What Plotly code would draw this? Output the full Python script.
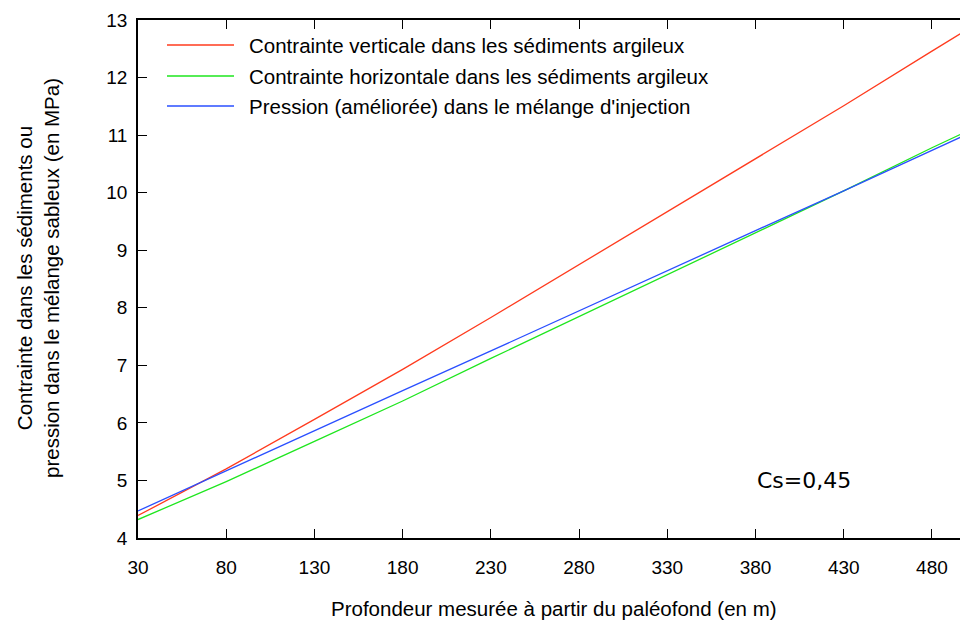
import plotly.graph_objects as go

depth = [30, 80, 130, 180, 230, 280, 330, 380, 430, 480, 496]
vertical = [4.39, 5.20, 6.06, 6.93, 7.83, 8.75, 9.67, 10.59, 11.51, 12.46, 12.76]
horizontal = [4.32, 4.98, 5.68, 6.38, 7.12, 7.85, 8.58, 9.30, 10.03, 10.78, 11.01]
pression = [4.47, 5.17, 5.86, 6.56, 7.25, 7.95, 8.64, 9.34, 10.03, 10.73, 10.96]

names = ["Contrainte verticale dans les sédiments argileux",
         "Contrainte horizontale dans les sédiments argileux",
         "Pression (améliorée) dans le mélange d'injection"]
colors = ["#ff3b1e", "#1ee61e", "#2a4fff"]
xticks = [30, 80, 130, 180, 230, 280, 330, 380, 430, 480]
yticks = [4, 5, 6, 7, 8, 9, 10, 11, 12, 13]

FONT = "Liberation Sans, Arial, Helvetica, sans-serif"

fig = go.Figure()
for ys, nm, c in zip([vertical, horizontal, pression], names, colors):
    fig.add_trace(go.Scatter(x=depth, y=ys, mode="lines", name=nm,
                             line=dict(color=c, width=1.3), showlegend=False))

W, H = 960, 623
L, R, T, B = 138, 0, 20, 85
pw, ph = W - L - R, H - T - B

def px(xp):
    return (xp - L) / pw

def py(yp):
    return (H - B - yp) / ph

# legend drawn manually
rows = [45, 76, 106]
for yp, nm, c in zip(rows, names, colors):
    fig.add_shape(type="line", xref="paper", yref="paper",
                  x0=px(167), x1=px(234), y0=py(yp), y1=py(yp),
                  line=dict(color=c, width=1.3))
    fig.add_annotation(xref="paper", yref="paper", x=px(247), y=py(yp),
                       text=nm, showarrow=False, xanchor="left", yanchor="middle",
                       font=dict(family=FONT, size=20.5, color="black"))

fig.add_annotation(xref="paper", yref="paper", x=px(755), y=py(480),
                   text="Cs=0,45", showarrow=False, xanchor="left", yanchor="middle",
                   font=dict(family="DejaVu Sans, sans-serif", size=22, color="black"))

fig.add_annotation(xref="paper", yref="paper", x=px(554), y=py(608),
                   text="Profondeur mesurée à partir du paléofond (en m)",
                   showarrow=False, xanchor="center", yanchor="middle",
                   font=dict(family=FONT, size=20.5, color="black"))

fig.add_annotation(xref="paper", yref="paper", x=px(38), y=py(278),
                   text="Contrainte dans les sédiments ou<br>pression dans le mélange sableux (en MPa)",
                   showarrow=False, xanchor="center", yanchor="middle", textangle=-90,
                   font=dict(family=FONT, size=20.5, color="black"))

fig.update_layout(
    width=W, height=H,
    margin=dict(l=L, r=R, t=T, b=B),
    paper_bgcolor="white", plot_bgcolor="white",
    font=dict(family=FONT, size=19, color="black"),
    xaxis=dict(range=[30, 495.9], tickvals=xticks, ticks="inside", ticklen=9,
               tickcolor="black", tickwidth=1.3, showline=True, linecolor="black",
               linewidth=1.6, mirror="ticks", showgrid=False, zeroline=False,
               ticklabelstandoff=11, tickfont=dict(size=19)),
    yaxis=dict(range=[4, 13], tickvals=yticks, ticks="inside", ticklen=9,
               tickcolor="black", tickwidth=1.3, showline=True, linecolor="black",
               linewidth=1.6, mirror=False, showgrid=False, zeroline=False,
               ticklabelstandoff=5, tickfont=dict(size=19)),
)

fig.write_html("out.html", config={"displayModeBar": False},
               post_script="document.body.style.margin='0';")
